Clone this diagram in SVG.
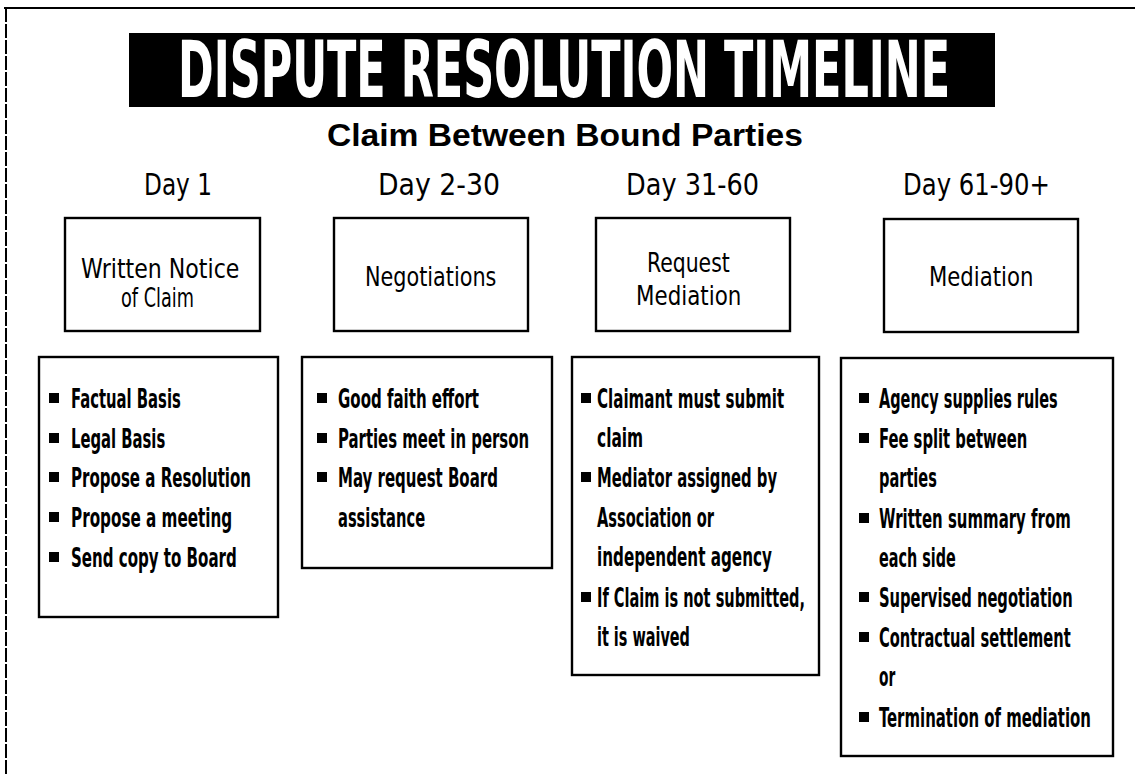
<svg xmlns="http://www.w3.org/2000/svg" width="1135" height="774" viewBox="0 0 1135 774">
<style>
.frame{fill:none;stroke:#000;stroke-width:2}
.box{fill:#fff;stroke:#000;stroke-width:2.4}
.title{font-family:"DejaVu Sans Condensed","Liberation Sans",sans-serif;font-weight:bold;font-size:78px;fill:#fff}
.sub{font-family:"Liberation Sans","DejaVu Sans",sans-serif;font-weight:bold;font-size:31px;fill:#000}
.day{font-family:"DejaVu Sans Condensed","Liberation Sans",sans-serif;font-size:30px;fill:#000}
.lbl{font-family:"DejaVu Sans Condensed","Liberation Sans",sans-serif;font-size:27px;fill:#000}
.it{font-family:"DejaVu Sans Condensed","Liberation Sans",sans-serif;font-weight:bold;font-size:26px;fill:#000}
.b{fill:#000}
</style>
<rect width="1135" height="774" fill="#fff"/>
<g id="frame">
<line class="frame" x1="4" y1="8" x2="1135" y2="8"/>
<line class="frame" x1="6" y1="8" x2="6" y2="774" stroke-dasharray="14 2"/>
</g>
<g id="title">
<rect x="129" y="33" width="866" height="74" fill="#000"/>
<text class="title" transform="translate(178 97) scale(0.6 1)" textLength="1287" lengthAdjust="spacingAndGlyphs">DISPUTE RESOLUTION TIMELINE</text>
</g>
<g id="subtitle">
<text class="sub" x="327" y="146" textLength="476" lengthAdjust="spacingAndGlyphs">Claim Between Bound Parties</text>
</g>
<g id="connectors"></g>
<g id="col1">
<text class="day" x="144" y="195" textLength="68" lengthAdjust="spacingAndGlyphs">Day 1</text>
<rect class="box" x="65" y="218" width="195" height="113"/>
<text class="lbl" transform="translate(81 278) scale(0.9 1)" textLength="176" lengthAdjust="spacingAndGlyphs">Written Notice</text>
<text class="lbl" transform="translate(121 307) scale(0.9 1)" textLength="81" lengthAdjust="spacingAndGlyphs">of Claim</text>
</g>
<g id="col1-details">
<rect class="box" x="39" y="357" width="239" height="260"/>
<rect class="b" x="49" y="393" width="10" height="10"/><text class="it" transform="translate(71 408) scale(0.65 1)" textLength="169" lengthAdjust="spacingAndGlyphs">Factual Basis</text>
<rect class="b" x="49" y="433" width="10" height="10"/><text class="it" transform="translate(71 448) scale(0.65 1)" textLength="145" lengthAdjust="spacingAndGlyphs">Legal Basis</text>
<rect class="b" x="49" y="472" width="10" height="10"/><text class="it" transform="translate(71 487) scale(0.65 1)" textLength="277" lengthAdjust="spacingAndGlyphs">Propose a Resolution</text>
<rect class="b" x="49" y="512" width="10" height="10"/><text class="it" transform="translate(71 527) scale(0.65 1)" textLength="248" lengthAdjust="spacingAndGlyphs">Propose a meeting</text>
<rect class="b" x="49" y="552" width="10" height="10"/><text class="it" transform="translate(71 567) scale(0.65 1)" textLength="255" lengthAdjust="spacingAndGlyphs">Send copy to Board</text>
</g>
<g id="col2">
<text class="day" x="378" y="195" textLength="122" lengthAdjust="spacingAndGlyphs">Day 2-30</text>
<rect class="box" x="334" y="218" width="194" height="113"/>
<text class="lbl" transform="translate(365 286) scale(0.9 1)" textLength="146" lengthAdjust="spacingAndGlyphs">Negotiations</text>
</g>
<g id="col2-details">
<rect class="box" x="302" y="357" width="250" height="211"/>
<rect class="b" x="317" y="393" width="10" height="10"/><text class="it" transform="translate(338 408) scale(0.65 1)" textLength="217" lengthAdjust="spacingAndGlyphs">Good faith effort</text>
<rect class="b" x="317" y="433" width="10" height="10"/><text class="it" transform="translate(338 448) scale(0.65 1)" textLength="294" lengthAdjust="spacingAndGlyphs">Parties meet in person</text>
<rect class="b" x="317" y="472" width="10" height="10"/><text class="it" transform="translate(338 487) scale(0.65 1)" textLength="246" lengthAdjust="spacingAndGlyphs">May request Board</text>
<text class="it" transform="translate(338 527) scale(0.65 1)" textLength="134" lengthAdjust="spacingAndGlyphs">assistance</text>
</g>
<g id="col3">
<text class="day" x="626" y="195" textLength="133" lengthAdjust="spacingAndGlyphs">Day 31-60</text>
<rect class="box" x="596" y="218" width="194" height="113"/>
<text class="lbl" transform="translate(647 272) scale(0.9 1)" textLength="92" lengthAdjust="spacingAndGlyphs">Request</text>
<text class="lbl" transform="translate(636 305) scale(0.9 1)" textLength="117" lengthAdjust="spacingAndGlyphs">Mediation</text>
</g>
<g id="col3-details">
<rect class="box" x="572" y="357" width="247" height="318"/>
<rect class="b" x="581" y="393" width="10" height="10"/><text class="it" transform="translate(597 408) scale(0.65 1)" textLength="288" lengthAdjust="spacingAndGlyphs">Claimant must submit</text>
<text class="it" transform="translate(597 447) scale(0.65 1)" textLength="71" lengthAdjust="spacingAndGlyphs">claim</text>
<rect class="b" x="581" y="472" width="10" height="10"/><text class="it" transform="translate(597 487) scale(0.65 1)" textLength="277" lengthAdjust="spacingAndGlyphs">Mediator assigned by</text>
<text class="it" transform="translate(597 527) scale(0.65 1)" textLength="180" lengthAdjust="spacingAndGlyphs">Association or</text>
<text class="it" transform="translate(597 566) scale(0.65 1)" textLength="269" lengthAdjust="spacingAndGlyphs">independent agency</text>
<rect class="b" x="581" y="592" width="10" height="10"/><text class="it" transform="translate(597 607) scale(0.65 1)" textLength="320" lengthAdjust="spacingAndGlyphs">If Claim is not submitted,</text>
<text class="it" transform="translate(597 646) scale(0.65 1)" textLength="143" lengthAdjust="spacingAndGlyphs">it is waived</text>
</g>
<g id="col4">
<text class="day" x="903" y="195" textLength="147" lengthAdjust="spacingAndGlyphs">Day 61-90+</text>
<rect class="box" x="884" y="219" width="194" height="113"/>
<text class="lbl" transform="translate(929 286) scale(0.9 1)" textLength="116" lengthAdjust="spacingAndGlyphs">Mediation</text>
</g>
<g id="col4-details">
<rect class="box" x="841" y="358" width="272" height="398"/>
<rect class="b" x="859" y="393" width="10" height="10"/><text class="it" transform="translate(879 408) scale(0.65 1)" textLength="275" lengthAdjust="spacingAndGlyphs">Agency supplies rules</text>
<rect class="b" x="859" y="433" width="10" height="10"/><text class="it" transform="translate(879 448) scale(0.65 1)" textLength="228" lengthAdjust="spacingAndGlyphs">Fee split between</text>
<text class="it" transform="translate(879 487) scale(0.65 1)" textLength="89" lengthAdjust="spacingAndGlyphs">parties</text>
<rect class="b" x="859" y="513" width="10" height="10"/><text class="it" transform="translate(879 528) scale(0.65 1)" textLength="295" lengthAdjust="spacingAndGlyphs">Written summary from</text>
<text class="it" transform="translate(879 567) scale(0.65 1)" textLength="118" lengthAdjust="spacingAndGlyphs">each side</text>
<rect class="b" x="859" y="592" width="10" height="10"/><text class="it" transform="translate(879 607) scale(0.65 1)" textLength="298" lengthAdjust="spacingAndGlyphs">Supervised negotiation</text>
<rect class="b" x="859" y="632" width="10" height="10"/><text class="it" transform="translate(879 647) scale(0.65 1)" textLength="295" lengthAdjust="spacingAndGlyphs">Contractual settlement</text>
<text class="it" transform="translate(879 686) scale(0.65 1)" textLength="25" lengthAdjust="spacingAndGlyphs">or</text>
<rect class="b" x="859" y="712" width="10" height="10"/><text class="it" transform="translate(879 727) scale(0.65 1)" textLength="326" lengthAdjust="spacingAndGlyphs">Termination of mediation</text>
</g>
</svg>
